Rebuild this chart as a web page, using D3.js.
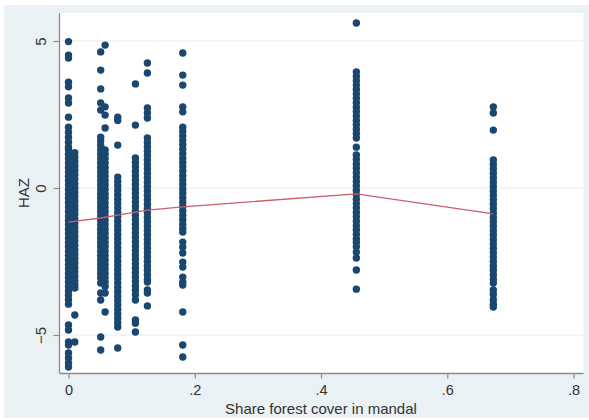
<!DOCTYPE html>
<html>
<head>
<meta charset="utf-8">
<script src="https://cdn.jsdelivr.net/npm/d3@7"></script>
<style>
  html, body { margin: 0; padding: 0; background: #ffffff; }
  svg { display: block; }
  text { font-family: "Liberation Sans", Arial, Helvetica, sans-serif; fill: #333333; }
</style>
</head>
<body>
<svg id="chart" width="589" height="420"></svg>
<script>
// ---------------- data ----------------
const xTicks = [0, 0.2, 0.4, 0.6, 0.8];
const xTickLabels = ["0", ".2", ".4", ".6", ".8"];
const yTicks = [-5, 0, 5];
const yTickLabels = ["\u22125", "0", "5"];
const xTitle = "Share forest cover in mandal";
const yTitle = "HAZ";

// share of forest cover for each mandal group (x position of each column)
const groupShare = [0, 0.01, 0.051, 0.058, 0.078, 0.106, 0.125, 0.181, 0.456, 0.673];

// HAZ values of the children, one array per column
const haz0 = [4.98, 4.52, 4.42, 3.6, 3.44, 3.06, 2.89, 2.41, 2.07, 1.9, 1.73, 1.56, 1.39,
  1.3, 1.15, 1.0, 0.85, 0.7, 0.55, 0.4, 0.25, 0.1, -0.05, -0.2, -0.35, -0.5, -0.65, -0.8, -0.95,
  -1.1, -1.25, -1.4, -1.55, -1.7, -1.85, -2.0, -2.15, -2.3, -2.45, -2.6, -2.75, -2.9, -3.05,
  -3.2, -3.35, -3.5, -3.65, -3.8, -3.95, -4.66, -4.83, -5.24, -5.34, -5.61, -5.78, -5.95, -6.09];
const haz1 = [1.2, 1.05, 0.9, 0.75, 0.6, 0.45, 0.3, 0.15, 0, -0.15, -0.3, -0.45, -0.6, -0.75,
  -0.9, -1.05, -1.2, -1.35, -1.5, -1.65, -1.8, -1.95, -2.1, -2.25, -2.4, -2.55, -2.7, -2.85,
  -3.0, -3.15, -3.3, -3.4, -4.32, -5.24];
const haz2 = [4.63, 4.01, 3.37, 2.89, 2.65, 1.73, 1.6, 1.45, 1.3, 1.15, 1.0, 0.85, 0.7, 0.55,
  0.4, 0.25, 0.1, -0.05, -0.2, -0.35, -0.5, -0.65, -0.8, -0.95, -1.1, -1.25, -1.4, -1.55, -1.7,
  -1.85, -2.0, -2.15, -2.3, -2.45, -2.6, -2.75, -2.9, -3.05, -3.23, -3.57, -3.81, -5.07, -5.51];
const haz3 = [4.86, 2.76, 2.48, 2.04, 1.29, 1.15, 1.0, 0.85, 0.7, 0.55, 0.4, 0.25, 0.1, -0.05,
  -0.2, -0.35, -0.5, -0.65, -0.8, -0.95, -1.1, -1.25, -1.4, -1.55, -1.7, -1.85, -2.0, -2.15,
  -2.3, -2.45, -2.6, -2.75, -2.9, -3.05, -3.2, -3.35, -3.57, -4.22];
const haz4 = [2.41, 2.3, 1.46, 0.37, 0.22, 0.07, -0.08, -0.23, -0.38, -0.53, -0.68, -0.83, -0.98,
  -1.13, -1.28, -1.43, -1.58, -1.73, -1.88, -2.03, -2.18, -2.33, -2.48, -2.63, -2.78, -2.93,
  -3.08, -3.23, -3.38, -3.53, -3.68, -3.83, -3.98, -4.13, -4.28, -4.43, -4.58, -4.73, -5.44];
const haz5 = [3.54, 2.14, 1.02, 0.87, 0.72, 0.57, 0.42, 0.27, 0.12, -0.03, -0.18, -0.33, -0.48,
  -0.63, -0.78, -0.93, -1.08, -1.23, -1.38, -1.53, -1.68, -1.83, -1.98, -2.13, -2.28, -2.43,
  -2.58, -2.73, -2.88, -3.03, -3.18, -3.33, -3.48, -3.63, -3.81, -4.49, -4.6, -4.9];
const haz6 = [4.25, 3.91, 2.72, 2.55, 2.38, 1.7, 1.55, 1.4, 1.25, 1.1, 0.95, 0.8, 0.65, 0.5,
  0.35, 0.2, 0.05, -0.1, -0.25, -0.4, -0.55, -0.7, -0.85, -1.0, -1.15, -1.3, -1.45, -1.6, -1.75,
  -1.9, -2.05, -2.2, -2.35, -2.5, -2.65, -2.8, -2.95, -3.1, -3.2, -3.47, -3.57, -4.01];
const haz7 = [4.59, 3.84, 3.5, 2.76, 2.59, 2.07, 1.92, 1.77, 1.62, 1.47, 1.32, 1.17, 1.02, 0.87,
  0.72, 0.57, 0.42, 0.27, 0.12, -0.03, -0.18, -0.33, -0.48, -0.63, -0.78, -0.93, -1.08, -1.23,
  -1.38, -1.5, -1.84, -2.01, -2.21, -2.52, -2.69, -3.03, -3.2, -3.3, -4.22, -5.34, -5.75];
const haz8 = [5.61, 3.95, 3.8, 3.65, 3.5, 3.35, 3.2, 3.05, 2.9, 2.75, 2.6, 2.45, 2.3, 2.15, 2.0,
  1.85, 1.7, 1.39, 1.12, 0.97, 0.82, 0.67, 0.52, 0.37, 0.22, 0.07, -0.08, -0.23, -0.38, -0.53,
  -0.68, -0.83, -0.98, -1.13, -1.28, -1.43, -1.58, -1.73, -1.85, -2.0, -2.18, -2.38, -2.79, -3.44];
const haz9 = [2.76, 2.55, 1.97, 0.95, 0.8, 0.65, 0.5, 0.35, 0.2, 0.05, -0.1, -0.25, -0.4, -0.55,
  -0.7, -0.85, -1.0, -1.15, -1.3, -1.45, -1.6, -1.75, -1.9, -2.05, -2.2, -2.35, -2.5, -2.65,
  -2.8, -2.95, -3.1, -3.23, -3.47, -3.62, -3.8, -3.95, -4.05];
const hazGroups = [haz0, haz1, haz2, haz3, haz4, haz5, haz6, haz7, haz8, haz9];

// fitted (mean) line
const lineShare = [0, 0.051, 0.078, 0.106, 0.125, 0.181, 0.456, 0.673];
const lineHaz = [-1.16, -1.02, -0.92, -0.82, -0.75, -0.64, -0.2, -0.88];

// ---------------- drawing ----------------
const svg = d3.select("#chart");
const W = 589, H = 420;
const plot = { left: 59.5, right: 583.5, top: 13, bottom: 373.5 };

const x = d3.scaleLinear().domain([0, 0.8]).range([68.5, 573.5]);
const y = d3.scaleLinear().domain([-5, 5]).range([335, 41]);

// graph region background
svg.append("rect").attr("x", 4).attr("y", 5).attr("width", W - 4).attr("height", H - 7)
  .attr("fill", "#e9f1f4");
// plot region
svg.append("rect").attr("x", plot.left).attr("y", plot.top)
  .attr("width", plot.right - plot.left).attr("height", plot.bottom - plot.top)
  .attr("fill", "#ffffff");

// grid lines
svg.append("g").selectAll("line").data(yTicks).join("line")
  .attr("x1", plot.left).attr("x2", plot.right)
  .attr("y1", d => y(d)).attr("y2", d => y(d))
  .attr("stroke", "#e3ebee").attr("stroke-width", 1);

// points
const points = [];
hazGroups.forEach((arr, i) => arr.forEach(v => points.push({ s: groupShare[i], h: v })));
svg.append("g").selectAll("circle").data(points).join("circle")
  .attr("cx", d => x(d.s)).attr("cy", d => y(d.h)).attr("r", 3.7)
  .attr("fill", "#1a476f");

// fitted line
const lineData = lineShare.map((s, i) => ({ s, h: lineHaz[i] }));
svg.append("path").datum(lineData)
  .attr("d", d3.line().x(d => x(d.s)).y(d => y(d.h)))
  .attr("fill", "none").attr("stroke", "#c8606c").attr("stroke-width", 1.3);

// y axis
const yAxis = d3.axisLeft(y).tickValues(yTicks).tickSize(6)
  .tickFormat((d, i) => yTickLabels[i]);
const gy = svg.append("g").attr("transform", `translate(${plot.left},0)`).call(yAxis);
gy.select(".domain").attr("d", `M0,${plot.top}V${plot.bottom}`)
  .attr("stroke", "#8c8c8c").attr("stroke-width", 1.3);
gy.selectAll(".tick line").attr("stroke", "#8c8c8c").attr("stroke-width", 1.2);
gy.selectAll(".tick text")
  .attr("x", null).attr("dy", null)
  .attr("transform", "translate(-14,0) rotate(-90)")
  .attr("text-anchor", "middle")
  .attr("font-size", 15)
  .attr("font-family", "Liberation Sans, Arial, sans-serif")
  .attr("fill", "#333");

// x axis
const xAxis = d3.axisBottom(x).tickValues(xTicks).tickSize(5)
  .tickFormat((d, i) => xTickLabels[i]);
const gx = svg.append("g").attr("transform", `translate(0,${plot.bottom})`).call(xAxis);
gx.select(".domain").attr("d", `M${plot.left},0H${plot.right}`)
  .attr("stroke", "#8c8c8c").attr("stroke-width", 1.3);
gx.selectAll(".tick line").attr("stroke", "#8c8c8c").attr("stroke-width", 1.2);
gx.selectAll(".tick text")
  .attr("y", 21.5).attr("dy", null)
  .attr("font-size", 14.5)
  .attr("font-family", "Liberation Sans, Arial, sans-serif")
  .attr("fill", "#333");

// axis titles
svg.append("text").attr("x", 321).attr("y", 413.5)
  .attr("text-anchor", "middle").attr("font-size", 15).text(xTitle);
svg.append("text").attr("transform", `translate(29,193) rotate(-90)`)
  .attr("text-anchor", "middle").attr("font-size", 15).text(yTitle);
</script>
</body>
</html>
